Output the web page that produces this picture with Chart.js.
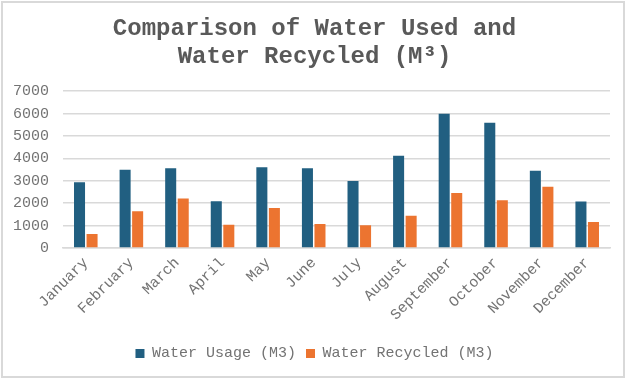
<!DOCTYPE html>
<html>
<head>
<meta charset="utf-8">
<script src="https://cdn.jsdelivr.net/npm/chart.js@4/dist/chart.umd.min.js"></script>
<style>
  html, body { margin: 0; padding: 0; background: #fff; }
  #wrap { position: relative; width: 629px; height: 382px; }
  #frame { position: absolute; left: 1px; top: 1px; width: 624px; height: 377px; box-sizing: border-box; border: 2px solid #d9d9d9; pointer-events: none; }
  canvas { position: absolute; left: 0; top: 0; }
</style>
</head>
<body>
<div id="wrap">
  <canvas id="c" width="629" height="382"></canvas>
  <div id="frame"></div>
</div>
<script>
const categories = ["January","February","March","April","May","June","July","August","September","October","November","December"];
const waterUsage = [2930, 3490, 3560, 2090, 3600, 3560, 2990, 4120, 5990, 5590, 3450, 2080];
const waterRecycled = [620, 1640, 2210, 1040, 1790, 1070, 1020, 1440, 2460, 2130, 2730, 1160];
const titleLines = ["Comparison of Water Used and", "Water Recycled (M\u00B3)"];
const seriesNames = ["Water Usage (M3)", "Water Recycled (M3)"];
const yTicks = { min: 0, max: 7000, step: 1000 };

const FONT = "'Liberation Mono', 'Courier New', monospace";
const GRAY = "#737373";

new Chart(document.getElementById('c'), {
  type: 'bar',
  data: {
    labels: categories,
    datasets: [
      { label: seriesNames[0], data: waterUsage, backgroundColor: '#215f81', categoryPercentage: 0.55, barPercentage: 0.88 },
      { label: seriesNames[1], data: waterRecycled, backgroundColor: '#ec7430', categoryPercentage: 0.55, barPercentage: 0.88 }
    ]
  },
  options: {
    responsive: false,
    animation: false,
    layout: { padding: { left: 12, right: 12, top: 0, bottom: 11 } },
    plugins: {
      title: {
        display: true,
        text: titleLines,
        color: '#595959',
        font: { family: FONT, size: 24, weight: 'bold', lineHeight: 1.17 },
        padding: { top: 15, bottom: 20 }
      },
      legend: {
        position: 'bottom',
        labels: {
          color: GRAY,
          font: { family: FONT, size: 15 },
          boxWidth: 9,
          boxHeight: 9,
          padding: 10
        }
      },
      tooltip: { enabled: false }
    },
    scales: {
      x: {
        grid: { display: false, drawTicks: false },
        border: { color: '#d9d9d9', width: 1.5 },
        ticks: { color: GRAY, font: { family: FONT, size: 15 }, minRotation: 45, maxRotation: 45, padding: 6 },
        afterFit(scale) { scale.height = 88; }
      },
      y: {
        min: yTicks.min, max: yTicks.max,
        grid: { color: '#d9d9d9', lineWidth: 1.5, drawTicks: false },
        border: { display: false },
        ticks: { stepSize: yTicks.step, color: GRAY, font: { family: FONT, size: 15 }, padding: 14,
          callback: (v) => String(v) },
        afterFit(scale) { scale.width = 51; }
      },
      yRight: {
        position: 'right',
        display: true,
        min: yTicks.min, max: yTicks.max,
        grid: { display: false, drawTicks: false },
        border: { display: false },
        ticks: { display: false },
        afterFit(scale) { scale.width = 7; }
      }
    }
  }
});
</script>
</body>
</html>
